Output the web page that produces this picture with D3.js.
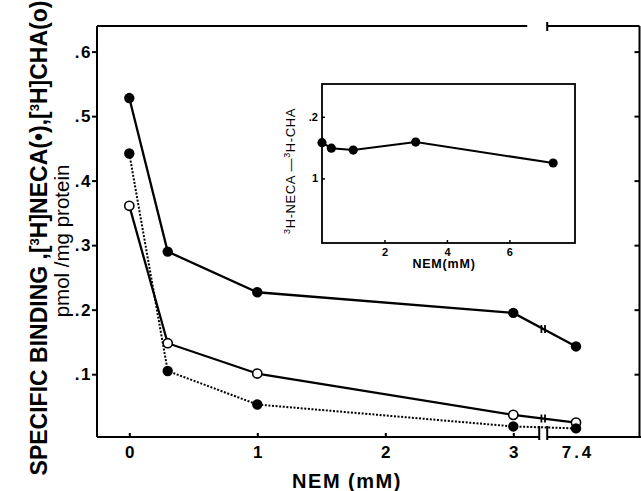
<!DOCTYPE html>
<html>
<head>
<meta charset="utf-8">
<script src="https://cdn.jsdelivr.net/npm/d3@7"></script>
<style>
  body { margin: 0; background: #fff; }
  text { fill: #000; }
</style>
</head>
<body>
<div id="chart-area"></div>
<script>
// main panel data (NEM in mM, binding in pmol/mg protein)
const nem = [0, 0.3, 1, 3, 7.4];
const necaSolid = [0.528, 0.290, 0.227, 0.195, 0.143];
const necaDotted = [0.442, 0.105, 0.053, 0.019, 0.016];
const cha = [0.361, 0.148, 0.101, 0.037, 0.025];
const xTicks = [0, 1, 2, 3, 7.4];
const xTickLabels = ["0", "1", "2", "3", "7.4"];
const yTicks = [0.1, 0.2, 0.3, 0.4, 0.5, 0.6];
const yTickLabels = [".1", ".2", ".3", ".4", ".5", ".6"];

// inset data
const insetNem = [0, 0.3, 1, 3, 7.4];
const insetRatio = [0.158, 0.149, 0.146, 0.159, 0.125];
const insetXTicks = [2, 4, 6];
const insetYTicks = [0.1, 0.2];
const insetYTickLabels = ["1", ".2"];

const width = 641;
const height = 491;
const frame = { left: 97, right: 639.5, top: 26, bottom: 437 };
const breakAt = 5.1; // where the x axis is broken, between 3 and 7.4
const font = "Liberation Sans, Arial, sans-serif";

const svg = d3.select("#chart-area")
  .append("svg")
  .attr("width", width)
  .attr("height", height)
  .attr("font-family", font);

const x = d3.scaleLinear()
  .domain([0, 3, 7.4])
  .range([129.3, 513.3, 576]);

const y = d3.scaleLinear()
  .domain([0, 0.6])
  .range([438.7, 51.6]);

// frame with broken top and bottom edges
const bx = x(breakAt);
const frameLines = [
  [frame.left, frame.top, frame.left, frame.bottom],
  [frame.right, frame.top, frame.right, frame.bottom],
  [frame.left, frame.top, bx - 16, frame.top],
  [bx + 4, frame.top, frame.right, frame.top],
  [bx + 4, frame.top - 4, bx + 4, frame.top + 5],
  [frame.left, frame.bottom, bx - 4, frame.bottom],
  [bx + 4, frame.bottom, width, frame.bottom],
  [bx - 4, frame.bottom - 11, bx - 4, frame.bottom + 3],
  [bx + 4, frame.bottom - 11, bx + 4, frame.bottom + 3]
];
svg.append("g")
  .selectAll("line")
  .data(frameLines)
  .enter()
  .append("line")
  .attr("x1", d => d[0]).attr("y1", d => d[1])
  .attr("x2", d => d[2]).attr("y2", d => d[3])
  .attr("stroke", "#000")
  .attr("stroke-width", 2);

// axes (ticks and labels only)
const xAxisGroup = svg.append("g")
  .attr("transform", `translate(0, ${frame.bottom})`)
  .call(d3.axisBottom(x)
    .tickValues(xTicks)
    .tickSize(-4)
    .tickPadding(9)
    .tickFormat((d, i) => xTickLabels[i]));

const yAxisGroup = svg.append("g")
  .attr("transform", `translate(${frame.left}, 0)`)
  .call(d3.axisLeft(y)
    .tickValues(yTicks)
    .tickSize(5)
    .tickPadding(0)
    .tickFormat((d, i) => yTickLabels[i]));

const yRightGroup = svg.append("g")
  .attr("transform", `translate(${frame.right}, 0)`)
  .call(d3.axisRight(y)
    .tickValues(yTicks)
    .tickSize(-5)
    .tickFormat(""));

[xAxisGroup, yAxisGroup, yRightGroup].forEach(g => {
  g.attr("font-family", font).attr("font-size", 16);
  g.select(".domain").remove();
  g.selectAll("line").attr("stroke-width", 2);
  g.selectAll("text")
    .attr("font-size", "17px")
    .attr("font-weight", "bold");
});
xAxisGroup.selectAll(".tick text")
  .attr("letter-spacing", "3px")
  .attr("dx", "1.5px");
yAxisGroup.selectAll(".tick text")
  .attr("letter-spacing", "1.5px");
xAxisGroup.selectAll(".tick line").filter(d => d === 7.4).remove();

// series
const line = d3.line()
  .x(d => x(d[0]))
  .y(d => y(d[1]));

const series = [
  { values: necaSolid, dash: null, open: false, marks: true },
  { values: cha, dash: null, open: true, marks: true },
  { values: necaDotted, dash: "2,1.6", open: false, marks: false }
];

series.forEach(s => {
  const pts = nem.map((n, i) => [n, s.values[i]]);
  svg.append("path")
    .attr("d", line(pts))
    .attr("fill", "none")
    .attr("stroke", "#000")
    .attr("stroke-width", s.dash ? 2 : 2.3)
    .attr("stroke-dasharray", s.dash);

  if (s.marks) {
    // little double stroke where the line crosses the axis break
    const p0 = [x(3), y(s.values[3])];
    const p1 = [x(7.4), y(s.values[4])];
    const t = (bx - p0[0]) / (p1[0] - p0[0]);
    const by = p0[1] + t * (p1[1] - p0[1]);
    svg.append("g")
      .selectAll("line")
      .data([-1.8, 1.8])
      .enter()
      .append("line")
      .attr("x1", d => bx + d).attr("x2", d => bx + d)
      .attr("y1", by - 4).attr("y2", by + 4)
      .attr("stroke", "#000")
      .attr("stroke-width", 1.8);
  }

  svg.append("g")
    .selectAll("circle")
    .data(pts)
    .enter()
    .append("circle")
    .attr("cx", d => x(d[0]))
    .attr("cy", d => y(d[1]))
    .attr("r", s.open ? 4.6 : 5.2)
    .attr("fill", s.open ? "#fff" : "#000")
    .attr("stroke", "#000")
    .attr("stroke-width", s.open ? 1.6 : 0);
});

// axis titles
svg.append("text")
  .attr("x", 347)
  .attr("y", 488)
  .attr("text-anchor", "middle")
  .attr("font-size", "20px")
  .attr("font-weight", "bold")
  .attr("letter-spacing", "1.5px")
  .text("NEM (mM)");

const yTitle = svg.append("text")
  .attr("transform", "translate(47, 238) rotate(-90)")
  .attr("text-anchor", "middle")
  .attr("font-size", "23px")
  .attr("font-weight", "bold");
yTitle.append("tspan").text("SPECIFIC BINDING ,[");
yTitle.append("tspan").attr("font-size", "13px").attr("dy", "-8").text("3");
yTitle.append("tspan").attr("dy", "8").text("H]NECA(•),[");
yTitle.append("tspan").attr("font-size", "13px").attr("dy", "-8").text("3");
yTitle.append("tspan").attr("dy", "8").text("H]CHA(o)");

svg.append("text")
  .attr("transform", "translate(69, 241) rotate(-90)")
  .attr("text-anchor", "middle")
  .attr("font-size", "20.5px")
  .text("pmol /mg protein");

// inset
const inset = { left: 322, right: 575, top: 84, bottom: 243 };

const ix = d3.scaleLinear()
  .domain([0, 8.1])
  .range([inset.left, inset.right]);

const iy = d3.scaleLinear()
  .domain([0, 0.25])
  .range([240, 86]);

svg.append("rect")
  .attr("x", inset.left)
  .attr("y", inset.top)
  .attr("width", inset.right - inset.left)
  .attr("height", inset.bottom - inset.top)
  .attr("fill", "none")
  .attr("stroke", "#000")
  .attr("stroke-width", 1.8);

const ixAxis = svg.append("g")
  .attr("transform", `translate(0, ${inset.bottom})`)
  .call(d3.axisBottom(ix)
    .tickValues(insetXTicks)
    .tickSize(-3)
    .tickPadding(5)
    .tickFormat(d3.format("d")));

const iyAxis = svg.append("g")
  .attr("transform", `translate(${inset.left}, 0)`)
  .call(d3.axisLeft(iy)
    .tickValues(insetYTicks)
    .tickSize(-3)
    .tickPadding(4)
    .tickFormat((d, i) => insetYTickLabels[i]));

[ixAxis, iyAxis].forEach(g => {
  g.attr("font-family", font);
  g.select(".domain").remove();
  g.selectAll("line").attr("stroke-width", 1.5);
  g.selectAll("text")
    .attr("font-size", "11px")
    .attr("font-weight", "bold");
});

const insetPts = insetNem.map((n, i) => [n, insetRatio[i]]);

svg.append("path")
  .attr("d", d3.line().x(d => ix(d[0])).y(d => iy(d[1]))(insetPts))
  .attr("fill", "none")
  .attr("stroke", "#000")
  .attr("stroke-width", 2);

svg.append("g")
  .selectAll("circle")
  .data(insetPts)
  .enter()
  .append("circle")
  .attr("cx", d => ix(d[0]))
  .attr("cy", d => iy(d[1]))
  .attr("r", 4.6)
  .attr("fill", "#000");

svg.append("text")
  .attr("x", 444)
  .attr("y", 268)
  .attr("text-anchor", "middle")
  .attr("font-size", "12.5px")
  .attr("font-weight", "bold")
  .attr("letter-spacing", "0.8px")
  .text("NEM(mM)");

const iyTitle = svg.append("text")
  .attr("transform", "translate(295, 171) rotate(-90)")
  .attr("text-anchor", "middle")
  .attr("font-size", "13px")
  .attr("letter-spacing", "0.6px");
iyTitle.append("tspan").attr("font-size", "9px").attr("dy", "-5").text("3");
iyTitle.append("tspan").attr("dy", "5").text("H-NECA —");
iyTitle.append("tspan").attr("font-size", "9px").attr("dy", "-5").text("3");
iyTitle.append("tspan").attr("dy", "5").text("H-CHA");
</script>
</body>
</html>
